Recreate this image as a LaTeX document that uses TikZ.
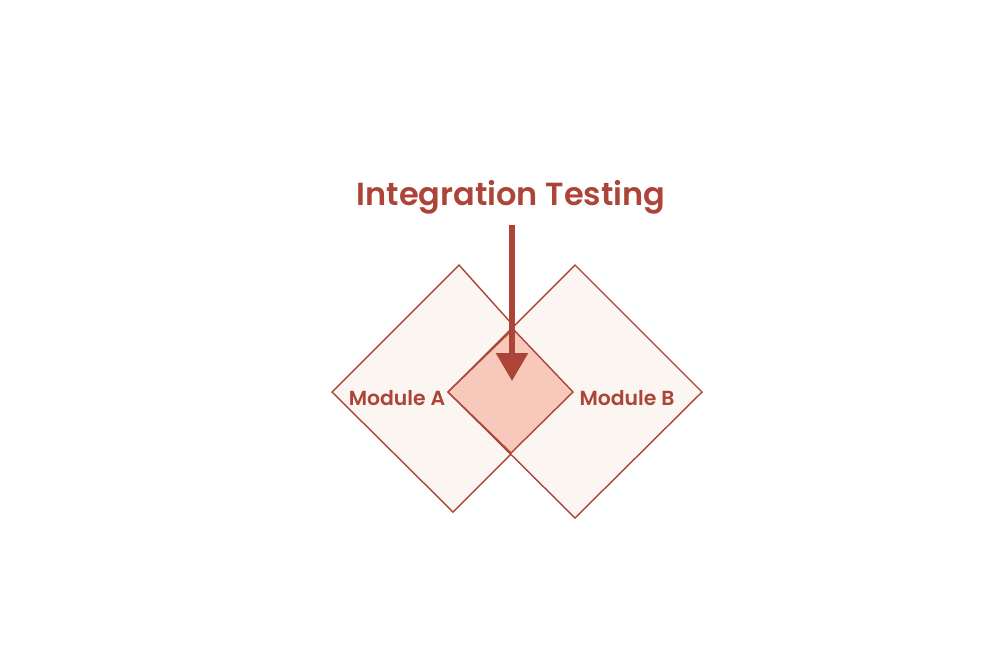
\documentclass[tikz,border=0pt]{standalone}
\usepackage{fontspec}
\setmainfont{Poppins}
\newfontfamily\semifont{Poppins SemiBold}
\usepackage{tikz}
\usetikzlibrary{arrows.meta}
\definecolor{brick}{HTML}{AC4438}
\definecolor{paleskin}{HTML}{FCF6F3}
\definecolor{peach}{HTML}{F7C9BB}
\tikzset{
	module/.style={draw=brick,fill=paleskin,line width=0.8pt},
	overlap/.style={draw=brick,fill=peach,line width=0.8pt},
	label/.style={text=brick,font=\semifont\fontsize{11.6}{13}\selectfont,inner sep=0pt},
	heading/.style={text=brick,font=\semifont\fontsize{18.2}{22}\selectfont,inner sep=0pt}
}

\begin{document}
\begin{tikzpicture}[x=0.02cm,y=-0.02cm]
	\useasboundingbox (0,0) rectangle (1000,667);
	% left module
	\coordinate (a1) at (459,265);
	\coordinate (a2) at (332,392);
	\coordinate (a3) at (453,512);
	\coordinate (a4) at (573,392);
	% right module
	\coordinate (b1) at (575,265);
	\coordinate (b2) at (448,392);
	\coordinate (b3) at (575,518);
	\coordinate (b4) at (702,392);
	% shared part
	\coordinate (c1) at (513,329);
	\coordinate (c3) at (511,453);
	\draw[module] (a1) -- (a2) -- (a3) -- (a4) -- cycle;
	\draw[module] (b1) -- (b2) -- (b3) -- (b4) -- cycle;
	\draw[overlap] (c1) -- (a4) -- (c3) -- (b2) -- cycle;
	\node[label] (ma) at (397,398) {Module A};
	\node[label] (mb) at (627,398) {Module B};
	\node[heading] (title) at (511,197) {Integration Testing};
	\coordinate (top) at (512,225);
	\coordinate (tip) at (512,381);
	\draw[brick,line width=0.11cm,-{Triangle[width=0.62cm,length=0.56cm]}] (top) -- (tip);
\end{tikzpicture}
\end{document}
